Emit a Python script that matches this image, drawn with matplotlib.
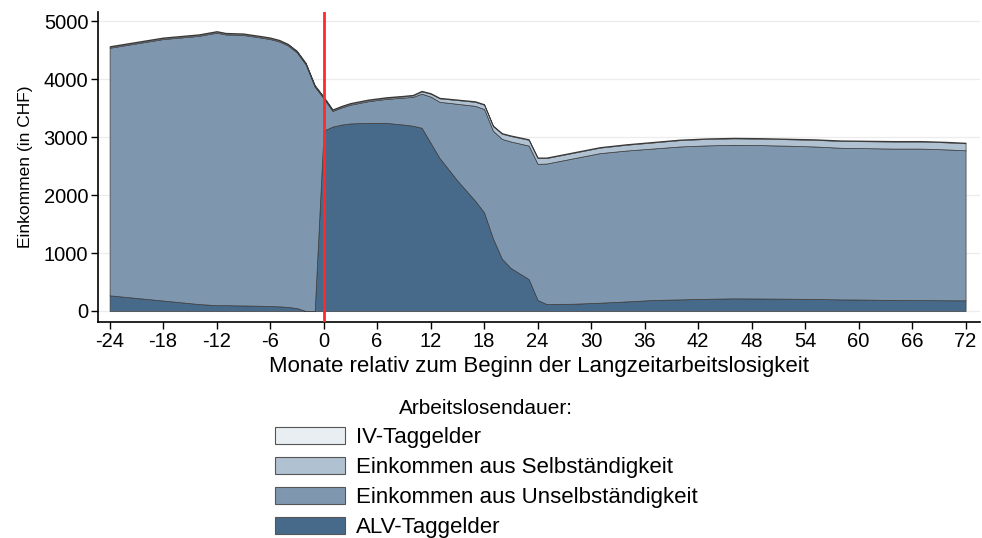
import matplotlib
matplotlib.use("Agg")
import matplotlib.pyplot as plt
from matplotlib.patches import Patch
import numpy as np

plt.rcParams['font.family'] = ['Liberation Sans', 'DejaVu Sans']
plt.rcParams['axes.unicode_minus'] = False

months = [-24, -18, -14, -12, -11, -9, -7, -6, -5, -4, -3, -2, -1,
          0, 1, 2, 3, 5, 7, 9, 10, 11, 12, 13, 15, 17, 18, 19, 20, 21, 23, 24,
          25, 28, 31, 34, 37, 40, 43, 46, 49, 52, 55, 58, 61, 64, 67, 70, 72]

total = [4570, 4720, 4775, 4830, 4800, 4790, 4745, 4720, 4680, 4610, 4490, 4280, 3900,
         3700, 3480, 3540, 3590, 3650, 3690, 3715, 3730, 3800, 3760, 3680, 3650, 3620, 3570, 3200, 3070, 3030, 2965, 2650,
         2650, 2740, 2830, 2880, 2920, 2960, 2980, 2990, 2985, 2975, 2965, 2945, 2940, 2935, 2935, 2920, 2905]

alv = [270, 180, 120, 100, 100, 95, 90, 85, 80, 70, 50, 0, 0,
       3110, 3180, 3215, 3235, 3245, 3245, 3215, 3195, 3160, 2900, 2640, 2250, 1900, 1700, 1250, 900, 740, 550, 190,
       120, 125, 143, 165, 190, 200, 210, 218, 215, 212, 207, 200, 196, 190, 187, 185, 184]

selb = [18, 18, 18, 18, 18, 18, 18, 18, 18, 18, 18, 18, 18,
        18, 18, 18, 20, 20, 20, 22, 25, 40, 50, 60, 65, 70, 75, 80, 90, 95, 100, 100,
        95, 95, 95, 100, 105, 110, 112, 112, 112, 112, 115, 118, 120, 122, 122, 122, 122]

iv = [12] * len(months)

total_a = np.array(total, float)
alv_a = np.array(alv, float)
selb_a = np.array(selb, float)
iv_a = np.array(iv, float)
unselb_a = total_a - alv_a - selb_a - iv_a

labels = ["ALV-Taggelder", "Einkommen aus Unselbständigkeit",
          "Einkommen aus Selbständigkeit", "IV-Taggelder"]
colors = ["#476a8b", "#7f97ae", "#b0c1d1", "#e9eef2"]

fig = plt.figure(figsize=(9.82, 5.38), dpi=100)
ax = fig.add_axes([0.0998, 0.4015, 0.898, 0.576])

x = np.array(months, float)
ax.stackplot(x, alv_a, unselb_a, selb_a, iv_a, colors=colors,
             edgecolor="#3a3a3a", linewidth=0.5, zorder=2)

ax.axvline(0, color="#ff2a2a", linewidth=2, zorder=3)

ax.set_xlim(-25.3, 73.6)
ax.set_ylim(-190, 5155)
ax.set_xticks(np.arange(-24, 73, 6))
ax.set_yticks(np.arange(0, 5001, 1000))
ax.tick_params(axis='both', labelsize=14.5, length=5, width=1, color="black", pad=2)
ax.yaxis.grid(True, color="#ececec", linewidth=0.9, zorder=0)
ax.set_axisbelow(True)
for s in ["top", "right"]:
    ax.spines[s].set_visible(False)
ax.spines["left"].set_linewidth(1.2)
ax.spines["bottom"].set_linewidth(1.2)
ax.set_ylabel("Einkommen (in CHF)", fontsize=12.5, labelpad=8)
ax.set_xlabel("Monate relativ zum Beginn der Langzeitarbeitslosigkeit", fontsize=16, labelpad=4)

handles = [Patch(facecolor=c, edgecolor="#555555", linewidth=0.8) for c in colors]
leg = fig.legend(handles[::-1], labels[::-1], loc="upper left",
                 bbox_to_anchor=(0.28, 0.258), frameon=False, fontsize=16,
                 title="Arbeitslosendauer:", title_fontsize=15,
                 handlelength=3.15, handleheight=0.8, labelspacing=0.39,
                 handletextpad=0.5, borderaxespad=0, borderpad=0)

fig.savefig("out.png", dpi=100)
